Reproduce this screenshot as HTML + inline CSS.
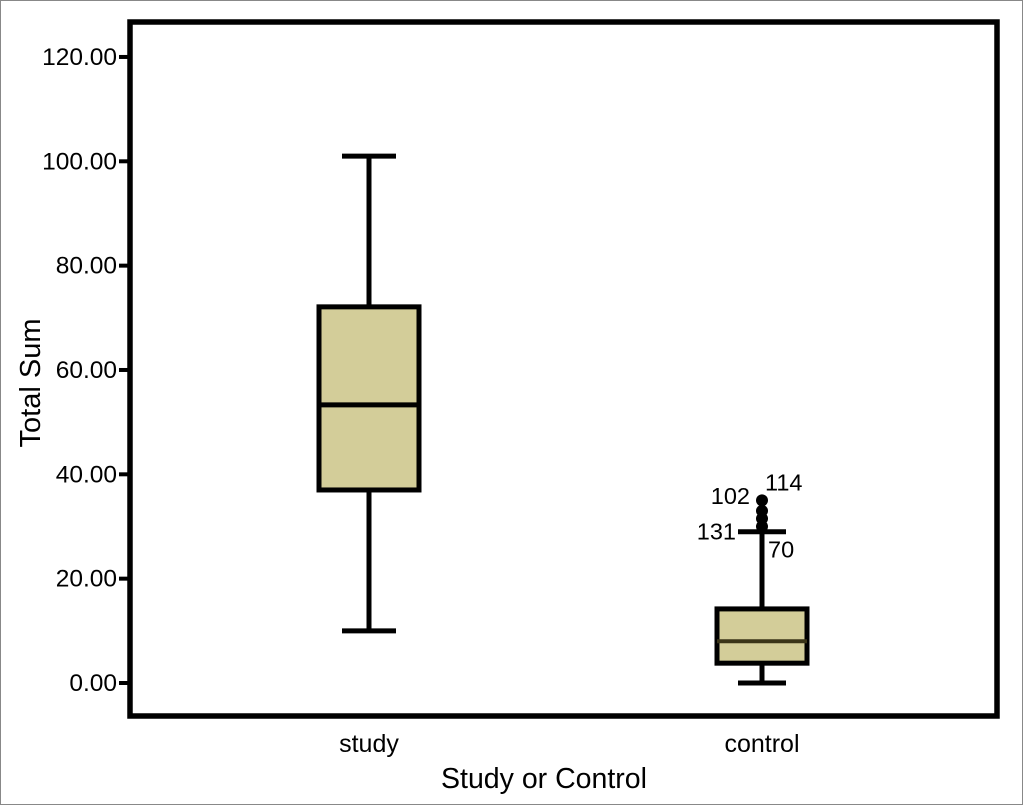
<!DOCTYPE html>
<html><head><meta charset="utf-8"><style>
body{margin:0;background:#fff}
svg{display:block;font-family:"Liberation Sans",sans-serif}
</style></head><body>
<svg width="1023" height="805">
<rect x="0.5" y="0.5" width="1022" height="804" fill="#fff" stroke="#888"/>
<g id="marks"></g>
<rect x="130" y="22" width="867" height="694" fill="none" stroke="#000" stroke-width="5.5"/>
<text x="40" y="383" transform="rotate(-90 40 383)" font-size="29" text-anchor="middle">Total Sum</text>
<text x="544" y="788" font-size="28.5" text-anchor="middle">Study or Control</text>
</svg>
<script>
const categories=["study","control"];
const whiskerLow=[10,0];
const q1=[37,3.8];
const medians=[53.3,8];
const q3=[72.1,14.2];
const whiskerHigh=[101,29];
const outlierValues=[[],[30,31.5,33,35]];
const outlierLabels=[[],["131","70","102","114"]];
const yTicks=[0,20,40,60,80,100,120];
const yTickLabels=["0.00","20.00","40.00","60.00","80.00","100.00","120.00"];

const labelOffsets=[[-26,13,'end'],[6,39,'start'],[-12,-7,'end'],[3,-10,'start']];
const y=v=>683-v*5.217;
const xs=[369,762];
const x=i=>xs[i];
const g=document.getElementById('marks');
const NS='http://www.w3.org/2000/svg';
function mk(t,a){const e=document.createElementNS(NS,t);for(const k in a)e.setAttribute(k,a[k]);g.appendChild(e);return e;}
yTicks.forEach((t,i)=>{
 const l=mk('line',{x1:119,x2:130,y1:y(t),y2:y(t),stroke:'#000','stroke-width':4});
 
 
 const tx=mk('text',{x:117,y:y(t)+8,'font-size':24.5,'text-anchor':'end'});
 tx.textContent=yTickLabels[i];
 
 
});
categories.forEach((c,i)=>{
 const cx=x(i), hw=i==0?50:45, cap=i==0?27:24;
 const w=mk('line',{x1:cx,x2:cx,y1:y(whiskerHigh[i]),y2:y(whiskerLow[i]),stroke:'#000','stroke-width':5});
 
 
 [whiskerLow[i],whiskerHigh[i]].forEach(v=>{
  const cp=mk('line',{x1:cx-cap,x2:cx+cap,y1:y(v),y2:y(v),stroke:'#000','stroke-width':5});
  
  
 });
 const b=mk('rect',{x:cx-hw,y:y(q3[i]),width:hw*2,height:y(q1[i])-y(q3[i]),fill:'#d3cd99',stroke:'#000','stroke-width':5});
 
 
 const m=mk('line',{x1:cx-hw,x2:cx+hw,y1:y(medians[i]),y2:y(medians[i]),stroke:i==0?'#000':'#3a3418','stroke-width':i==0?5:4});
 
 
 outlierValues[i].forEach(v=>{
  const o=mk('circle',{cx:cx,cy:y(v),r:6,fill:'#000'});
  
  
 });
 outlierLabels[i].forEach((s,k)=>{
  const off=labelOffsets[k];
  const t=mk('text',{x:cx+off[0],y:y(outlierValues[i][k])+off[1],'font-size':23.5,'text-anchor':off[2]});
  t.textContent=s;
  
  
 });
 const xl=mk('text',{x:cx,y:752,'font-size':25,'text-anchor':'middle'});
 xl.textContent=c;
 
 
});
</script>
</body></html>
